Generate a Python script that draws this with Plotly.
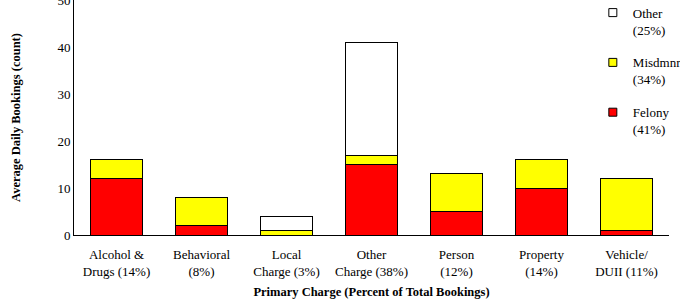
import plotly.graph_objects as go

categories = ["Alcohol &<br>Drugs (14%)", "Behavioral<br>(8%)", "Local<br>Charge (3%)",
              "Other<br>Charge (38%)", "Person<br>(12%)", "Property<br>(14%)", "Vehicle/<br>DUII (11%)"]
felony = [12, 2, 0, 15, 5, 10, 1]
misdmnr = [4, 6, 1, 2, 8, 6, 11]
other = [0, 0, 3, 24, 0, 0, 0]
legend_labels = ["Other<br>(25%)", "Misdmnr<br>(34%)", "Felony<br>(41%)"]
legend_colors = ["#FFFFFF", "#FFFF00", "#FF0000"]
colors = ["#FF0000", "#FFFF00", "#FFFFFF"]
title_text = "Average Daily Bookings by Primary Charge, (2019)"

FONT = "Liberation Serif"

def nz(vals):
    return [v if v else None for v in vals]

fig = go.Figure()
for vals, col in zip([felony, misdmnr, other], colors):
    fig.add_trace(go.Bar(x=categories, y=nz(vals), marker=dict(color=col, line=dict(color="#000000", width=1)),
                         showlegend=False))
for i, (lab, col) in enumerate(zip(legend_labels, legend_colors)):
    fig.add_trace(go.Scatter(x=[None], y=[None], mode="markers", name=lab, legendgroup=str(i),
                             marker=dict(symbol="square", size=8, color=col, line=dict(color="#000000", width=1))))

fig.update_layout(
    width=680, height=299,
    barmode="stack", bargap=0.38,
    margin=dict(l=74, r=11, t=0, b=64, autoexpand=False),
    paper_bgcolor="white", plot_bgcolor="white",
    font=dict(family=FONT, size=13, color="black"),
    showlegend=True,
    legend=dict(x=0.872, y=1.01, xanchor="left", yanchor="top", traceorder="grouped",
                tracegroupgap=13, valign="top", bgcolor="rgba(0,0,0,0)",
                font=dict(family=FONT, size=13, color="black"), itemwidth=30),
    xaxis=dict(showline=True, linecolor="black", linewidth=1, ticks="", showgrid=False, automargin=False,
               ticklabelstandoff=7,
               title=dict(text="<b>Primary Charge (Percent of Total Bookings)</b>", font=dict(size=12.5), standoff=10),
               tickfont=dict(size=13)),
    yaxis=dict(range=[0, 50], dtick=10, showline=True, linecolor="black", linewidth=1, ticks="",
               showgrid=False, zeroline=False, automargin=False, ticklabeloverflow="allow",
               title=dict(text="<b>Average Daily Bookings (count)</b>", font=dict(size=12.5), standoff=34),
               tickfont=dict(size=13)),
    annotations=[dict(text="<b>" + title_text + "</b>", xref="paper", yref="paper", x=0.065, y=1,
                      xanchor="left", yanchor="bottom", yshift=-2, showarrow=False,
                      font=dict(family=FONT, size=18, color="black"))],
)

fig.write_html("out.html", post_script="document.body.style.margin='0px';",
               config={"displayModeBar": False})
